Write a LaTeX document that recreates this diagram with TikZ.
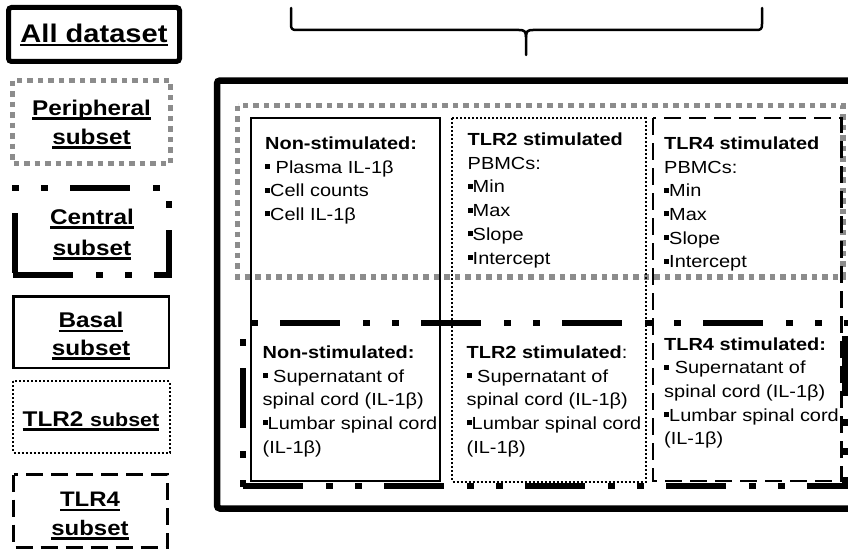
\documentclass[tikz,border=0pt]{standalone}
\usepackage{fontspec}
\setmainfont[FakeStretch=1.14]{Liberation Sans}
\definecolor{pgray}{RGB}{140,140,140}
\newcommand\sq{\rule[4pt]{5pt}{5pt}}
\newcommand\myul[1]{\setbox0\hbox{#1}\leavevmode\rlap{\rule[-4.5pt]{\wd0}{2.6pt}}\box0}
\tikzset{
  txt/.style={anchor=base west, inner sep=0pt, align=left, font=\fontsize{17.5}{23.7}\selectfont},
  leg/.style={anchor=base, inner sep=0pt, align=center, font=\bfseries\fontsize{21.3}{29}\selectfont},
  periph/.style={draw=pgray, line width=5.5pt, dash pattern=on 5.5pt off 5pt},
  central/.style={draw=black, line width=6pt, dash pattern=on 60pt off 23pt on 7pt off 22pt on 7pt off 22pt},
  basal/.style={draw=black, line width=2.5pt},
  tlrtwo/.style={draw=black, line width=2pt, dash pattern=on 2pt off 2pt},
  tlrfour/.style={draw=black, line width=2.5pt, dash pattern=on 17pt off 8pt},
  allbox/.style={draw=black, line width=6.5pt, rounded corners=3pt},
}
\begin{document}
\begin{tikzpicture}[x=1pt,y=-1pt]
\useasboundingbox (0,0) rectangle (848,551);
\clip (0,0) rectangle (848,551);
% ---------- legend ----------
\draw[allbox, line width=5pt] (8.5,7.5) rectangle (179.5,61.5);
\node[leg, font=\bfseries\fontsize{25.5}{30}\selectfont] (lall) at (94,42) {\myul{All dataset}};
\draw[periph] (12.5,80.5) rectangle (170.5,163.5);
\node[leg] (lper) at (91.5,144) {\myul{Peripheral}\\\myul{subset}};
% central legend box, edge by edge
\draw[central, dash phase=83pt]  (12,188) -- (172,188);
\draw[central, dash phase=140pt] (12,275) -- (172,275);
\draw[central, dash phase=113pt] (15,185) -- (15,278);
\draw[central, dash phase=96pt]  (169,185) -- (169,278);
\node[leg, font=\bfseries\fontsize{21.3}{30.5}\selectfont] (lcen) at (92,255) {\myul{Central}\\\myul{subset}};
\draw[basal] (13.5,296.5) rectangle (169,368);
\node[leg, font=\bfseries\fontsize{21.3}{27.3}\selectfont] (lbas) at (91,355) {\myul{Basal}\\\myul{subset}};
\draw[tlrtwo] (13,381) rectangle (169.5,452.5);
\node[leg] (ltwo) at (91,426) {\myul{TLR2 {\fontsize{18.8}{20}\selectfont subset}}};
\draw[tlrfour] (13.5,474.5) rectangle (167.5,547.5);
\node[leg, font=\bfseries\fontsize{21}{28.3}\selectfont] (lfour) at (90,535) {\myul{TLR4}\\\myul{subset}};
% ---------- brace ----------
\draw[line width=2.5pt, line cap=round, line join=round]
  (291,8) -- (291,24) .. controls (291,29) and (292,30) .. (297,30) -- (519,30)
  .. controls (524,30) and (526,31) .. (526,37) -- (526,55);
\draw[line width=2.5pt, line cap=round, line join=round]
  (762,8) -- (762,24) .. controls (762,29) and (761,30) .. (756,30) -- (533,30)
  .. controls (528,30) and (526,31) .. (526,37);
% ---------- main frame ----------
\draw[allbox] (217,80.5) rectangle (870,508.5);
\draw[periph] (237.5,105.5) rectangle (843,277);
% central region, edge by edge
\draw[central, dash phase=101pt] (240,323) -- (848,323);
\draw[central, dash phase=138pt] (240,486) -- (848,486);
\draw[central, dash phase=93pt]  (243,320) -- (243,489);
\draw[central, dash phase=125pt] (845,320) -- (845,489);
\draw[basal] (251,118) rectangle (440,481);
\draw[tlrtwo] (452,118) rectangle (645.5,481.5);
\draw[tlrfour] (653,118) rectangle (841.5,481);
% ---------- texts (anchored at the baseline of the last line) ----------
\node[txt] (b1) at (265,220.4) {\textbf{Non-stimulated:}\\\sq{} Plasma IL-1β\\\sq Cell counts\\\sq Cell IL-1β};
\node[txt] (t2a) at (467.5,264) {\textbf{TLR2 stimulated}\\PBMCs:\\\sq Min\\\sq Max\\\sq Slope\\\sq Intercept};
\node[txt] (t4a) at (664,267.8) {\textbf{TLR4 stimulated}\\PBMCs:\\\sq Min\\\sq Max\\\sq Slope\\\sq Intercept};
\node[txt] (b2) at (262.5,453.1) {\textbf{Non-stimulated:}\\\sq{} Supernatant of\\spinal cord (IL-1β)\\\sq Lumbar spinal cord\\(IL-1β)};
\node[txt] (t2b) at (466.5,453.1) {\textbf{TLR2 stimulated}:\\\sq{} Supernatant of\\spinal cord (IL-1β)\\\sq Lumbar spinal cord\\(IL-1β)};
\node[txt] (t4b) at (664,444.8) {\textbf{TLR4 stimulated:}\\\sq{} Supernatant of\\spinal cord (IL-1β)\\\sq Lumbar spinal cord\\(IL-1β)};
\end{tikzpicture}
\end{document}
